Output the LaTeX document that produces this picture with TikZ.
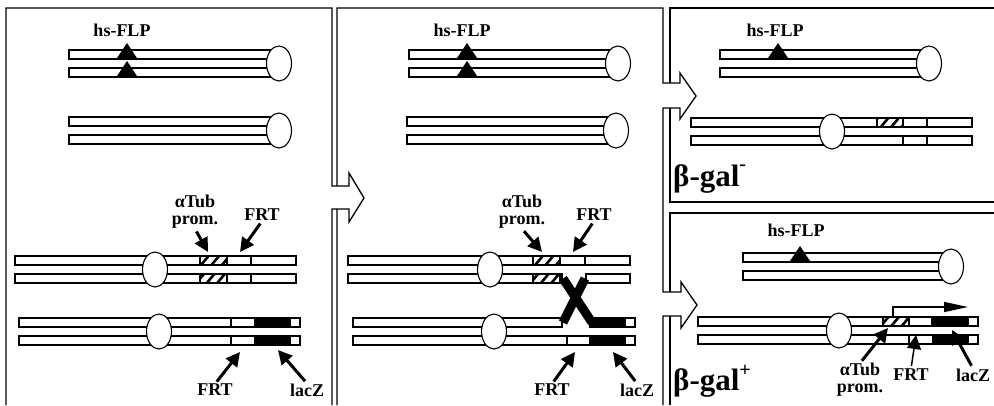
\documentclass[tikz,border=0pt]{standalone}
\usepackage{fontspec}
\setmainfont{Liberation Serif}
\usetikzlibrary{arrows.meta,shapes.geometric,patterns.meta}

% a homologue pair: two bars and the centromere
\newcommand{\chrpair}[5]{%
  \draw[bar] (#2,#4) rectangle (#3,#4+9);
  \draw[bar] (#2,#4+18) rectangle (#3,#4+27);
  \node[centro] (#1) at (#5,#4+13.5) {};}
% hs-FLP insertion mark on a bar
\newcommand{\flpmark}[2]{\fill (#1-10,#2+8) -- (#1,#2-7) -- (#1+10,#2+8) -- cycle;}

\begin{document}
\begin{tikzpicture}[x=1pt, y=-1pt,
  bar/.style={draw, fill=white, line width=1.1pt},
  centro/.style={ellipse, draw, fill=white, line width=1.1pt, inner sep=0pt,
    minimum width=25pt, minimum height=35pt},
  hatch/.style={draw, line width=1.1pt, pattern={Lines[angle=50,distance=8pt,line width=2.6pt]}},
  gene/.style={draw, fill=black, line width=1.1pt},
  seam/.style={line width=1.1pt},
  frame/.style={line width=1.3pt, line join=miter},
  tag/.style={font=\bfseries\fontsize{18}{17}\selectfont, inner sep=0pt},
  big/.style={font=\bfseries\fontsize{31}{31}\selectfont, inner sep=0pt, anchor=base west},
  pointer/.style={line width=3pt, -{Triangle[length=14pt,width=14pt]}, shorten <=3pt}]
\useasboundingbox (0,0) rectangle (994,405);

% panel frames with the block arrows between them
\draw[frame] (6,405) -- (6,8) -- (332,8) -- (332,186) -- (349,186) -- (349,173) -- (364,198)
  -- (349,222) -- (349,209) -- (332,209) -- (332,405);
\draw[frame] (337,405) -- (337,209) (337,186) -- (337,8) -- (663,8) -- (663,83) -- (680,83)
  -- (680,73) -- (696,96) -- (680,119) -- (680,108) -- (663,108) -- (663,292) -- (681,292)
  -- (681,282) -- (697,305) -- (681,328) -- (681,316) -- (663,316) -- (663,405);
\draw[frame] (994,8) -- (670,8) -- (670,83) (670,108) -- (670,202) -- (994,202);
\draw[frame] (994,213) -- (670,213) -- (670,292) (670,316) -- (670,405);

% first panel
\chrpair{cenA1}{69}{270}{50}{279}
\chrpair{cenB1}{69}{270}{117}{279}
\chrpair{cenC1}{15}{296}{256}{155}
\chrpair{cenD1}{19}{300}{318}{159}
\flpmark{127}{50} \flpmark{127}{68}
\draw[hatch] (200,256) rectangle (227,265);
\draw[hatch] (200,274) rectangle (227,283);
\draw[seam] (251,256) -- (251,265) (251,274) -- (251,283);
\draw[seam] (231,318) -- (231,327) (231,336) -- (231,345);
\draw[gene] (255,318) rectangle (290,327);
\draw[gene] (255,336) rectangle (290,345);

\node[tag] (flp1) at (122,30) {hs-FLP};
\node[tag, align=center] (tub1) at (195,212) {αTub\\prom.};
\node[tag] (frtC1) at (262,215) {FRT};
\node[tag] (frtD1) at (215,390) {FRT};
\node[tag] (lacD1) at (307,390) {lacZ};
\coordinate (pC1) at (208,252);
\coordinate (fC1) at (240,252);
\coordinate (fD1) at (240,352);
\coordinate (lD1) at (278,350);
\draw[pointer] (tub1.south) -- (pC1);
\draw[pointer] (frtC1.south) -- (fC1);
\draw[pointer] (frtD1.north) -- (fD1);
\draw[pointer] (lacD1.north) -- (lD1);

% second panel, FRT exchange
\chrpair{cenA2}{409}{610}{50}{618}
\chrpair{cenB2}{407}{607}{117}{616}
\flpmark{467}{50} \flpmark{467}{68}
\draw[bar] (348,256) rectangle (630,265);
\draw[bar] (348,274) rectangle (562,283);
\draw[bar] (586,274) rectangle (630,283);
\draw[bar] (353,318) rectangle (562,327);
\draw[bar] (590,318) rectangle (635,327);
\draw[bar] (353,336) rectangle (635,345);
\node[centro] (cenC2) at (490,269.5) {};
\node[centro] (cenD2) at (494,331.5) {};
\draw[hatch] (533,256) rectangle (560,265);
\draw[hatch] (533,274) rectangle (560,283);
\draw[seam] (585,256) -- (585,265) (567,336) -- (567,345);
\draw[gene] (590,318) rectangle (625,327);
\draw[gene] (590,336) rectangle (625,345);
\draw[line width=9pt] (563,278.5) -- (592,322.5);
\draw[line width=9pt] (585,278.5) -- (563,322.5);

\node[tag] (flp2) at (462,30) {hs-FLP};
\node[tag, align=center] (tub2) at (522,212) {αTub\\prom.};
\node[tag] (frtC2) at (594,215) {FRT};
\node[tag] (frtD2) at (552,390) {FRT};
\node[tag] (lacD2) at (637,390) {lacZ};
\coordinate (pC2) at (542,252);
\coordinate (fC2) at (573,252);
\coordinate (fD2) at (575,352);
\coordinate (lD2) at (613,352);
\draw[pointer] (tub2.south) -- (pC2);
\draw[pointer] (frtC2.south) -- (fC2);
\draw[pointer] (frtD2.north) -- (fD2);
\draw[pointer] (lacD2.north) -- (lD2);

% third panel, no lacZ expression
\chrpair{cenA3}{720}{920}{50}{929}
\chrpair{cenB3}{691}{972}{118}{832}
\flpmark{778}{50}
\draw[hatch] (877,118) rectangle (903,127);
\draw[seam] (927,118) -- (927,127) (903,136) -- (903,145) (927,136) -- (927,145);
\node[tag] (flp3) at (775,30) {hs-FLP};
\node[big] (gminus) at (673,186) {β-gal\raisebox{0.5em}{\fontsize{20}{20}\selectfont -}};

% fourth panel, lacZ driven by the tubulin promoter
\chrpair{cenA4}{743}{943}{253}{951}
\chrpair{cenB4}{698}{978}{317}{839}
\flpmark{800}{253}
\draw[hatch] (883,317) rectangle (909,326);
\draw[gene] (932,317) rectangle (968,326);
\draw[seam] (909,335) -- (909,344);
\draw[gene] (933,335) rectangle (968,344);
\coordinate (tss) at (893,317);
\coordinate (tend) at (968,307);
\draw[line width=1.2pt, -{Triangle[length=24pt,width=10pt]}] (tss) |- (tend);

\node[tag] (flp4) at (796,230) {hs-FLP};
\node[tag, align=center] (tub4) at (860,380) {αTub\\prom.};
\node[tag] (frt4) at (911,375) {FRT};
\node[tag] (lac4) at (973,375) {lacZ};
\coordinate (p4) at (888,328);
\coordinate (f4) at (916,335);
\coordinate (l4) at (952,330);
\draw[pointer] (tub4.north) -- (p4);
\draw[pointer, line width=1.5pt] (frt4.north) -- (f4);
\draw[pointer] (lac4.north) -- (l4);
\node[big] (gplus) at (673,390) {β-gal\raisebox{0.42em}{\fontsize{20}{20}\selectfont +}};
\end{tikzpicture}
\end{document}
